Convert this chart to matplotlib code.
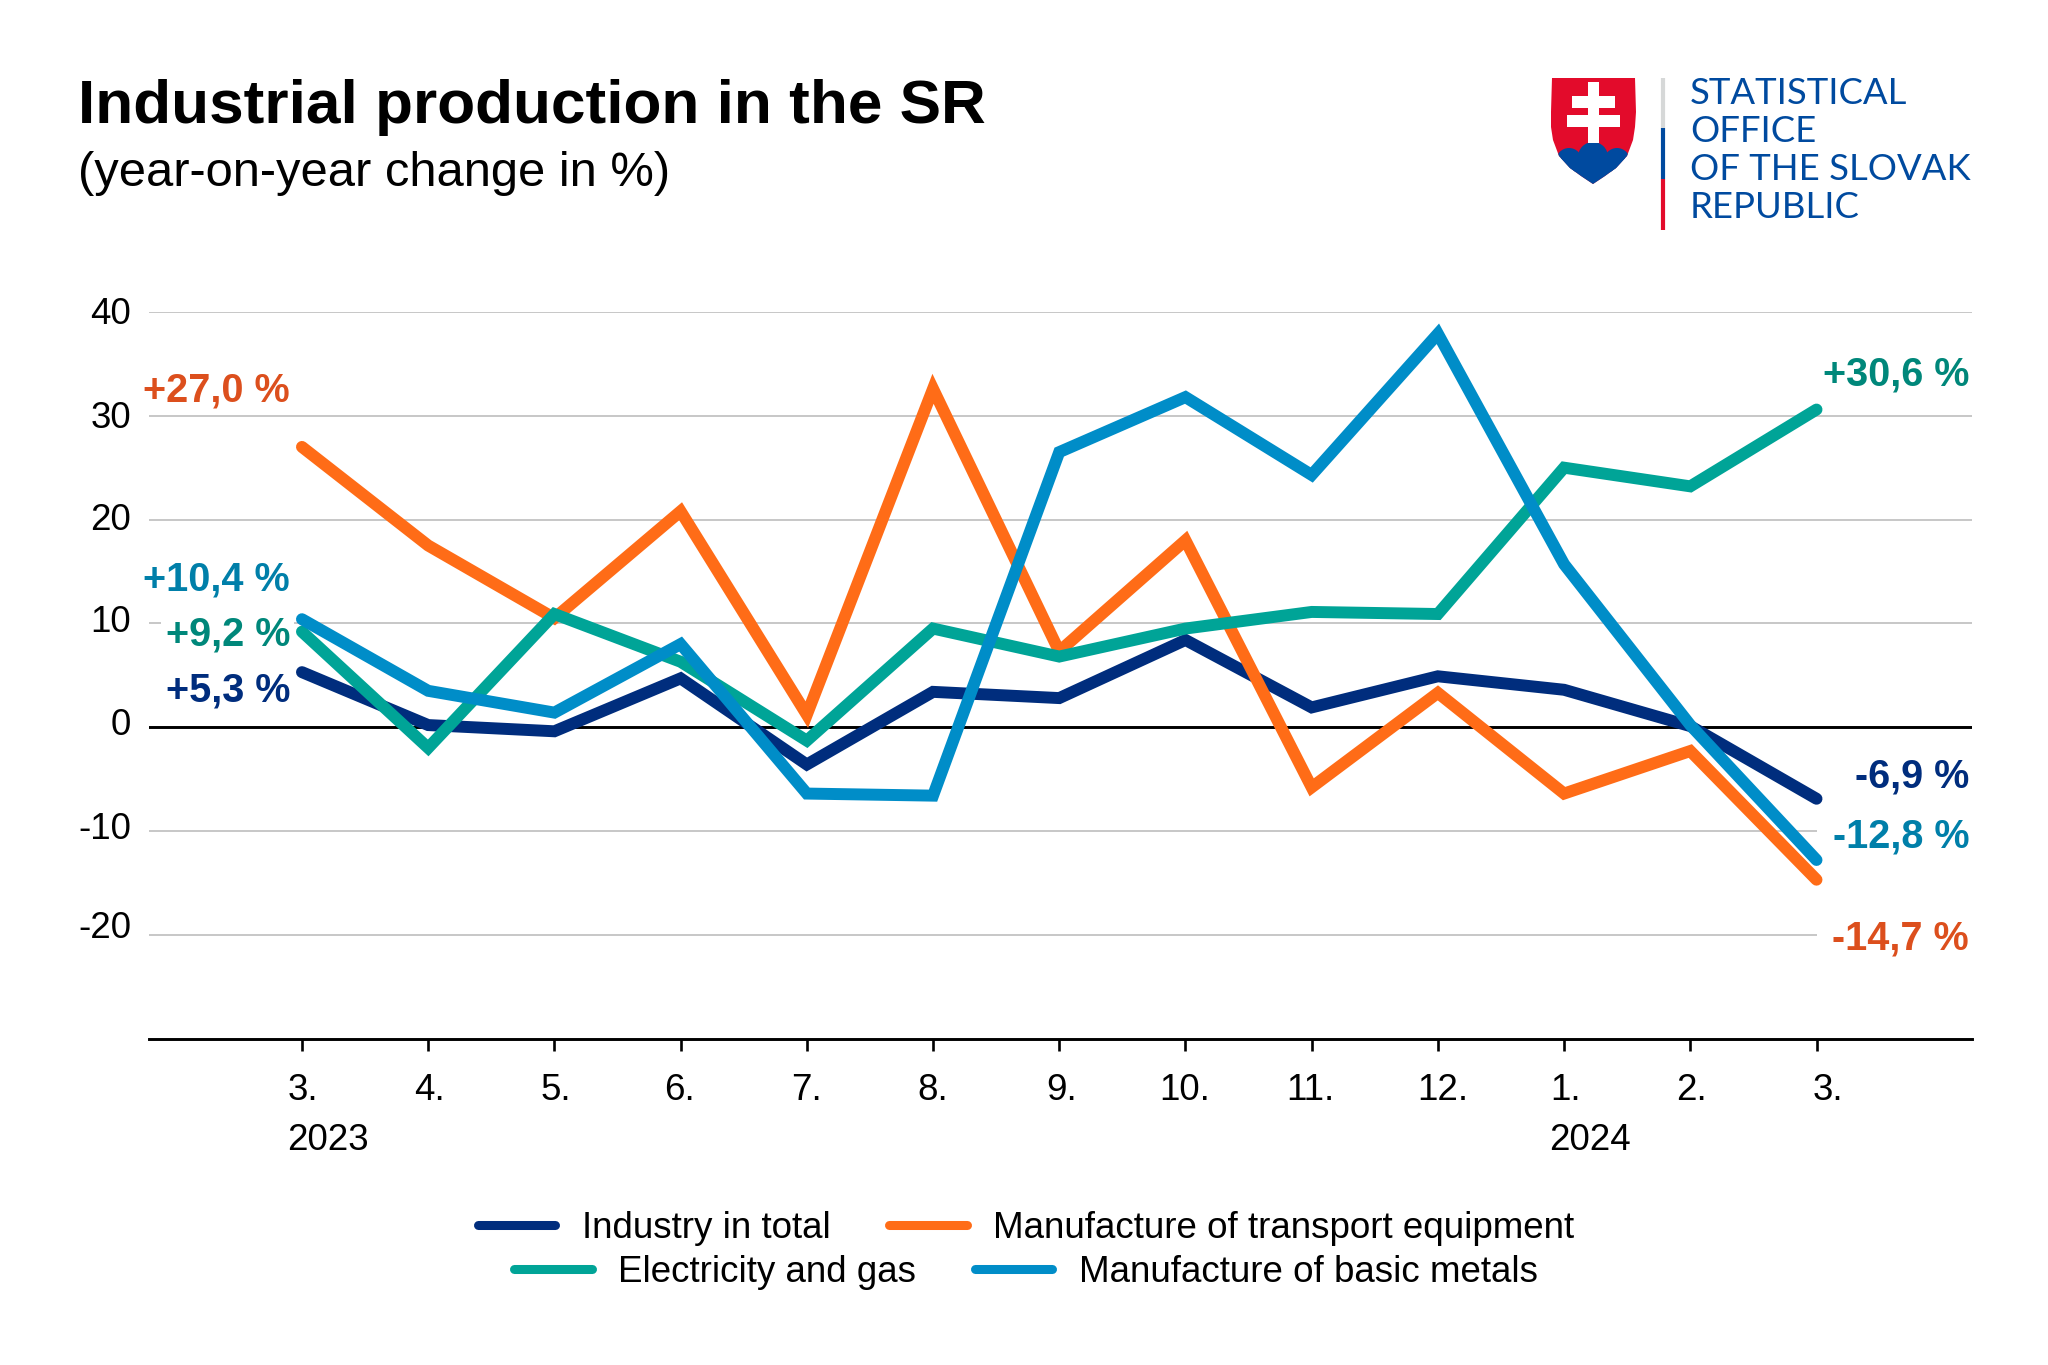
import matplotlib
matplotlib.use('Agg')
import matplotlib.pyplot as plt
from matplotlib.patches import Polygon, Circle
from matplotlib.transforms import Affine2D

plt.rcParams['font.family'] = ['Liberation Sans', 'DejaVu Sans']

months = ['3.', '4.', '5.', '6.', '7.', '8.', '9.', '10.', '11.', '12.', '1.', '2.', '3.']
years = {'2023': 0, '2024': 10}
y_ticks = [-20, -10, 0, 10, 20, 30, 40]

industry = [5.3, 0.2, -0.4, 4.7, -3.6, 3.4, 2.8, 8.4, 1.9, 4.9, 3.6, 0.1, -6.9]
transport = [27.0, 17.5, 10.5, 20.8, 1.2, 32.6, 7.3, 18.0, -5.8, 3.3, -6.4, -2.3, -14.7]
electricity = [9.2, -2.0, 10.9, 6.3, -1.3, 9.5, 6.8, 9.5, 11.1, 10.9, 25.0, 23.2, 30.6]
metals = [10.4, 3.5, 1.4, 8.0, -6.4, -6.6, 26.5, 31.8, 24.3, 37.9, 15.7, 0.2, -12.8]

start_labels = ['+27,0 %', '+10,4 %', '+9,2 %', '+5,3 %']
end_labels = ['+30,6 %', '-6,9 %', ' -12,8 %', ' -14,7 %']

NAVY = '#002d7d'
ORANGE = '#ff6c17'
GREEN = '#00a497'
BLUE = '#008dc8'
TXT_ORANGE = '#dc4f1d'
TXT_BLUE = '#007fa9'
TXT_GREEN = '#00877a'
LOGO_RED = '#e30b2b'
LOGO_BLUE = '#004a9f'
FS = 26.5
W, H = 2048, 1365

fig = plt.figure(figsize=(W / 100, H / 100), dpi=100)
ax = fig.add_axes([149 / W, 1 - 1038.5 / H, (1972 - 149) / W, (1038.5 - 312) / H])
ax.set_xlim(-1.212, 13.232)
ax.set_ylim(-30, 40)

x = list(range(len(months)))
line_kw = dict(lw=8.6, solid_joinstyle='miter', solid_capstyle='round')
l1, = ax.plot(x, industry, color=NAVY, zorder=3, **line_kw)
l2, = ax.plot(x, transport, color=ORANGE, zorder=4, **line_kw)
l3, = ax.plot(x, electricity, color=GREEN, zorder=5, **line_kw)
l4, = ax.plot(x, metals, color=BLUE, zorder=6, **line_kw)

for s in ['top', 'left', 'right']:
    ax.spines[s].set_visible(False)
ax.spines['bottom'].set_linewidth(2.1)
ax.axhline(0, color='black', lw=2.1, zorder=2)
ax.set_yticks(y_ticks)
ax.set_yticklabels([str(v) for v in y_ticks], fontsize=FS)
ax.tick_params(axis='y', length=0, pad=13)
ax.grid(axis='y', color='#b8b8b8', lw=1.1, zorder=1)
ax.set_axisbelow(True)

ax.set_xticks(x)
ax.set_xticklabels(months, fontsize=FS)
ax.tick_params(axis='x', length=8.5, width=1.9, pad=16.6)

# the labels in the original were placed by hand, slightly off their ticks
y_nudge = [-10.5, -5.5, -5.6, -4.6, -2.6, -1.6, -1.1]
for lab, dy in zip(ax.get_yticklabels(), y_nudge):
    lab.set_transform(lab.get_transform() + Affine2D().translate(0, -dy))
x_nudge = [1, 1, 1, -1, 0, 0, 2, -1, -1, 5, 1, 1, 11]
for lab, dx in zip(ax.get_xticklabels(), x_nudge):
    lab.set_transform(lab.get_transform() + Affine2D().translate(dx, 0))

for year, pos in years.items():
    ax.annotate(year, xy=(pos, 0), xycoords=('data', 'axes fraction'), xytext=(-15, -112),
                textcoords='offset pixels', fontsize=FS, ha='left', va='baseline')

# value labels sit above the grid but under the lines, their white box cuts the grid
white = dict(fc='white', ec='none', pad=3)
for txt, col, py in zip(start_labels, [TXT_ORANGE, TXT_BLUE, TXT_GREEN, NAVY], [391, 579, 635, 690]):
    ax.text(290 / W, 1 - py / H, txt, color=col, fontsize=28.5, fontweight='bold', ha='right', va='center',
            bbox=white, transform=fig.transFigure, clip_on=False, zorder=2.5)
for txt, col, py in zip(end_labels, [TXT_GREEN, NAVY, TXT_BLUE, TXT_ORANGE], [375, 777, 836, 939]):
    ax.text(1969 / W, 1 - py / H, txt, color=col, fontsize=28.5, fontweight='bold', ha='right', va='center',
            bbox=white, transform=fig.transFigure, clip_on=False, zorder=2.5)

fig.text(78 / W, 1 - 107 / H, 'Industrial production in the SR', fontsize=44.7, fontweight='bold', va='center')
fig.text(78 / W, 1 - 173 / H, '(year-on-year change in %)', fontsize=35.2, va='center')

leg_kw = dict(fontsize=FS, frameon=False, ncol=2, loc='center', handlelength=2.1, handletextpad=0.72,
              columnspacing=1.6, borderpad=0, borderaxespad=0)
leg1 = fig.legend([l1, l2], ['Industry in total', 'Manufacture of transport equipment'],
                  bbox_to_anchor=(1026 / W, 1 - 1228 / H), **leg_kw)
leg2 = fig.legend([l3, l4], ['Electricity and gas', 'Manufacture of basic metals'],
                  bbox_to_anchor=(1026 / W, 1 - 1272 / H), **leg_kw)
for leg in (leg1, leg2):
    for h in leg.get_lines():
        h.set_linewidth(6.5)

# logo, drawn on a pixel overlay
ov = fig.add_axes([0, 0, 1, 1])
ov.set_xlim(0, W)
ov.set_ylim(H, 0)
ov.axis('off')
ov.patch.set_alpha(0)
shield = [(1552, 78), (1635, 78), (1636, 112), (1635, 127), (1633, 140), (1627, 156), (1616, 168), (1605, 176),
          (1593, 184), (1581, 176), (1570, 168), (1559, 156), (1553, 140), (1551, 127), (1551, 112)]
shield_patch = Polygon(shield, closed=True, fc=LOGO_RED, ec='none')
ov.add_patch(shield_patch)
lower = Polygon([(1550, 158), (1637, 158), (1637, 190), (1550, 190)], fc=LOGO_BLUE, ec='none')
ov.add_patch(lower)
lower.set_clip_path(shield_patch)
for cx, cy, r in [(1569, 161, 13), (1593, 157, 15), (1617, 161, 13)]:
    hill = Circle((cx, cy), r, fc=LOGO_BLUE, ec='none')
    ov.add_patch(hill)
    hill.set_clip_path(shield_patch)
for x0, x1, y0, y1 in [(1588, 1599, 82, 143), (1572, 1615, 96, 108), (1567, 1620, 115, 127)]:
    ov.add_patch(Polygon([(x0, y0), (x1, y0), (x1, y1), (x0, y1)], fc='white', ec='none'))
ov.plot([1663, 1663], [78, 128], color='#d6d8d8', lw=3, solid_capstyle='butt')
ov.plot([1663, 1663], [128, 179], color=LOGO_BLUE, lw=3, solid_capstyle='butt')
ov.plot([1663, 1663], [179, 230], color=LOGO_RED, lw=3, solid_capstyle='butt')
for txt, py in [('STATISTICAL', 94), ('OFFICE', 132), ('OF THE SLOVAK', 170), ('REPUBLIC', 208)]:
    ov.text(1690, py, txt, color=LOGO_BLUE, fontsize=26.3, family='Lato', va='center', ha='left')

fig.savefig('out.png', dpi=100)
